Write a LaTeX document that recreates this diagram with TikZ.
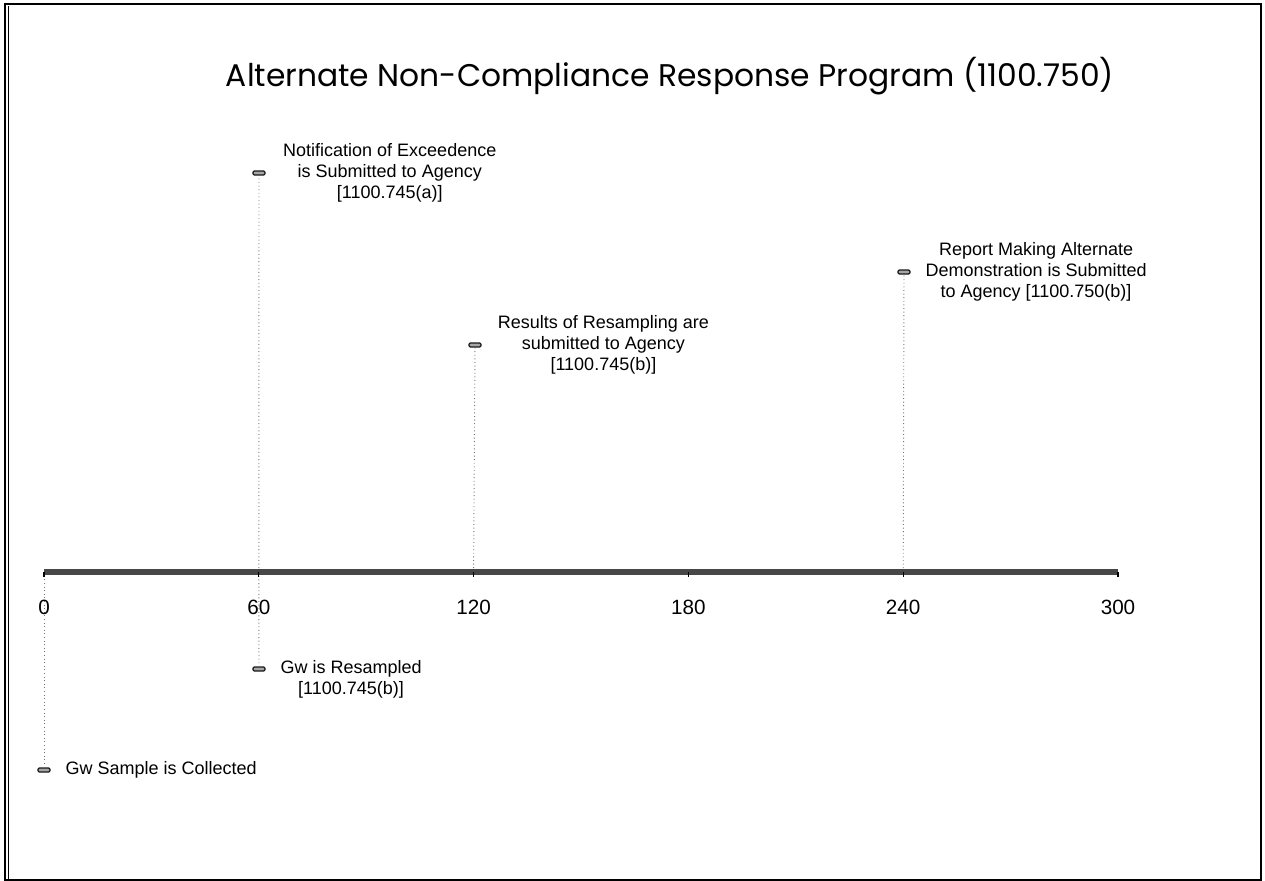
\documentclass[tikz,border=0pt]{standalone}
\usepackage{fontspec}
\setmainfont{Liberation Sans}
\newfontfamily\titlefont{Poppins}
\usetikzlibrary{positioning}

\begin{document}
\begin{tikzpicture}[x=0.75pt,y=-0.75pt,
    event/.style={rectangle,rounded corners=1pt,draw=black!90,fill=black!35,line width=0.9pt,minimum width=9pt,minimum height=3pt,inner sep=0pt},
    tick/.style={inner sep=0pt,minimum size=0pt},
    stem/.style={black!55,dotted,line width=0.7pt},
    note/.style={font=\fontsize{13.5}{15.75}\selectfont,align=center,inner sep=0pt},
    day/.style={font=\fontsize{15.5}{18}\selectfont,inner sep=0pt}]

\useasboundingbox (0,0) rectangle (1265,881);

% frame
\draw[line width=0.9pt] (5,4) rectangle (1261,880);
\draw[line width=0.6pt] (8.5,6) -- (8.5,880);

\node[font=\titlefont\fontsize{23.5}{27}\selectfont] (title) at (670,76) {Alternate Non-Compliance Response Program (1100.750)};

% ticks every 60 days
\foreach \d in {0,60,...,300} {
  \node[tick] (t\d) at ({44+\d*3.58},572) {};
}

% events
\node[event] (m0) at (44,770) {};
\node[event] (m60b) at (259,669) {};
\node[event] (m60a) at (259,173) {};
\node[event] (m120) at (475,345) {};
\node[event] (m240) at (904,272) {};

\draw[stem] (t0) -- (m0);
\draw[stem] (t60) -- (m60b);
\draw[stem] (t60) -- (m60a);
\draw[stem] (t120) -- (m120);
\draw[stem] (t240) -- (m240);

% time axis
\draw[line width=4.4pt,black!72] (t0.center) -- (t300.center);
\foreach \d in {0,60,...,300} {
  \draw[black,line width=1pt] (t\d) -- ++(0,4.5);
  \node[day] (n\d) at ([yshift=-26.25pt]t\d) {\d};
}

\node[note,right=11pt of m0] {Gw Sample is Collected};
\node[note,right=11pt of m60b,yshift=-7.9pt] {Gw is Resampled\\ {[1100.745(b)]}};
\node[note,right=13pt of m60a] {Notification of Exceedence\\is Submitted to Agency\\ {[1100.745(a)]}};
\node[note,right=12pt of m120] {Results of Resampling are\\submitted to Agency\\ {[1100.745(b)]}};
\node[note,right=11pt of m240] {Report Making Alternate\\Demonstration is Submitted\\to Agency [1100.750(b)]};
\end{tikzpicture}
\end{document}
